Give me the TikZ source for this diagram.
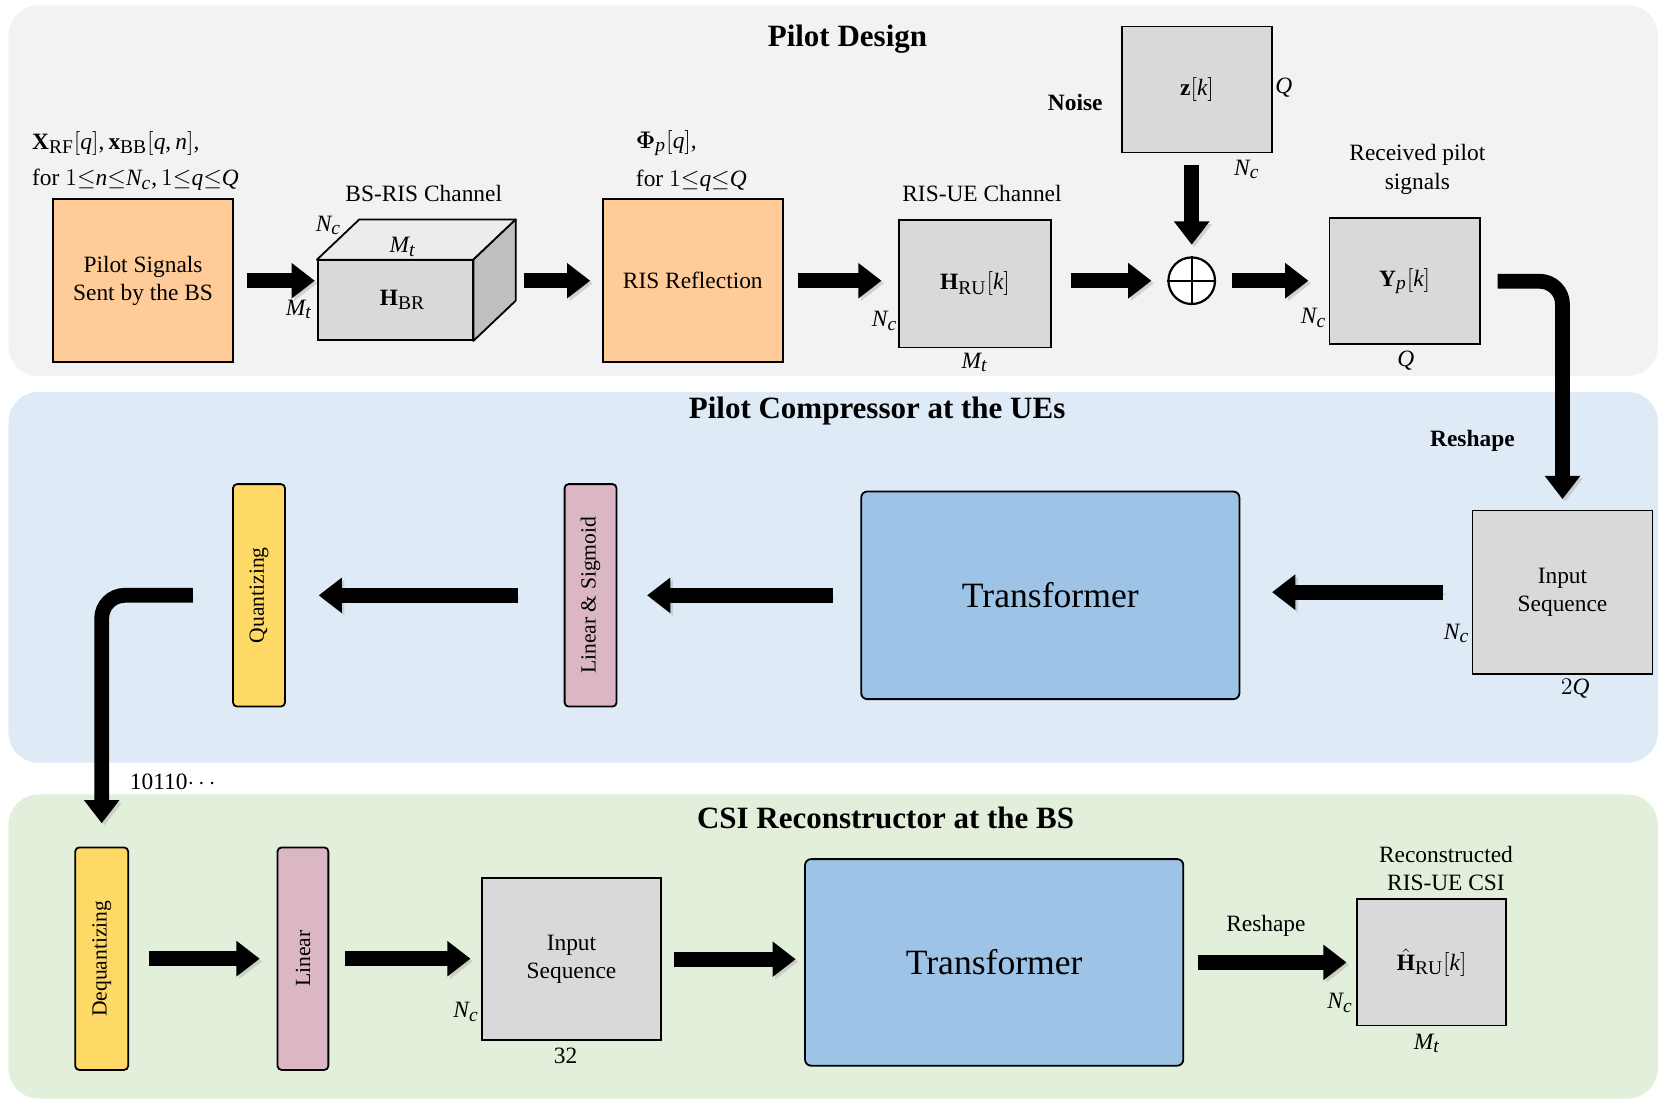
\documentclass[tikz,border=0pt]{standalone}
\usepackage{amsmath}
\usepackage{bm}
\usepackage{fontspec}
\setmainfont{Liberation Serif}
\usepackage[italic]{mathastext}
\usetikzlibrary{arrows.meta}

\newcommand\bodysize{\fontsize{11.7}{14.3}\selectfont}
\newcommand\rotsize{\fontsize{10.8}{13}\selectfont}

\definecolor{panelgray}{HTML}{F2F2F2}
\definecolor{panelblue}{HTML}{DEEAF6}
\definecolor{panelgreen}{HTML}{E2EFDA}
\definecolor{boxgray}{HTML}{D9D9D9}
\definecolor{boxorange}{HTML}{FFCC99}
\definecolor{boxblue}{HTML}{9DC3E6}
\definecolor{boxpink}{HTML}{DBB6C5}
\definecolor{boxyellow}{HTML}{FFD966}

\tikzset{
  panel/.style={rounded corners=15pt},
  title/.style={inner sep=0pt, font=\fontsize{15.5}{18}\selectfont\bfseries},
  txt/.style={inner sep=0pt, align=center},
  boxsize/.style 2 args={minimum width=#1*0.5297pt, minimum height=#2*0.5297pt},
  gap/.style 2 args={shorten <=#1*0.5297pt, shorten >=#2*0.5297pt},
  block/.style={draw, line width=0.9pt, align=center, inner sep=0pt},
  graybox/.style={block, fill=boxgray},
  orangebox/.style={block, fill=boxorange},
  tfbox/.style={block, fill=boxblue, rounded corners=3pt,
    font=\fontsize{17.8}{20}\selectfont},
  barbox/.style={block, rounded corners=2pt, font=\rotsize},
  sumnode/.style={draw, circle, fill=white, line width=1.1pt,
    minimum size=23.3pt, inner sep=0pt},
  bigarrow/.style={line width=7.4pt,
    -{Triangle[length=11.6pt, width=17pt]},
    preaction={draw=black!30, opacity=.5,
      transform canvas={shift={(1.3pt,-1.3pt)}}}},
}

\begin{document}
\begin{tikzpicture}[x=0.5297pt, y=-0.5297pt, font=\bodysize]
  \useasboundingbox (0,0) rectangle (1568,1041);

  % background panels
  \fill[panelgray, panel] (8,5) rectangle (1565,355);
  \fill[panelblue, panel] (8,370) rectangle (1565,720);
  \fill[panelgreen, panel] (8,750) rectangle (1565,1037);
  \node[title] (ttop) at (800,37) {Pilot Design};
  \node[title] (tmid) at (828,388) {Pilot Compressor at the UEs};
  \node[title] (tbot) at (836,772) {CSI Reconstructor at the BS};

  % pilot design
  \node[orangebox, boxsize={170}{154}] (pilot) at (135,265) {Pilot Signals\\Sent by the BS};
  \node[txt, anchor=west] (xrf) at (30,135) {$\mathbf{X}_{\mathrm{RF}}[q], \mathbf{x}_{\mathrm{BB}}[q,n],$};
  \node[txt, anchor=west] (xrange) at (30,170) {for $1{\le}n{\le}N_c,1{\le}q{\le}Q$};

  \node[graybox, boxsize={146}{75}] (br) at (373,283.5) {};
  \filldraw[fill=boxgray!50, line width=0.9pt, line join=round] (br.north west) -- ++(40,-38) -- ([shift={(40,-38)}]br.north east) -- (br.north east) -- cycle;
  \filldraw[fill=black!25, line width=0.9pt, line join=round] (br.north east) -- ++(40,-38) -- ([shift={(40,-38)}]br.south east) -- (br.south east) -- cycle;
  \node[txt] (brname) at (380,283) {$\mathbf{H}_{\mathrm{BR}}$};
  \node[txt] (brlbl) at (400,183) {BS-RIS Channel};
  \node[txt] (brnc) at (310,213) {$N_c$};
  \node[txt] (brmt1) at (380,233) {$M_t$};
  \node[txt] (brmt2) at (282,292) {$M_t$};
  \coordinate (brback) at (486,265);

  \node[orangebox, boxsize={170}{154}] (ris) at (654,265) {RIS Reflection};
  \node[txt, anchor=west] (phi) at (600,135) {$\bm{\Phi}_p[q],$};
  \node[txt, anchor=west] (phirange) at (600,171) {for $1{\le}q{\le}Q$};

  \node[graybox, boxsize={143}{120}] (hru) at (920.5,268) {$\mathbf{H}_{\mathrm{RU}}[k]$};
  \node[txt] (hrulbl) at (927,183) {RIS-UE Channel};
  \node[txt] (hrunc) at (835,303) {$N_c$};
  \node[txt] (hrumt) at (920,342) {$M_t$};

  \node[sumnode] (sum) at (1125,265) {};
  \draw[line width=1.1pt] (sum.north) -- (sum.south) (sum.west) -- (sum.east);

  \node[graybox, boxsize={142}{119}] (zk) at (1130,84.5) {$\mathbf{z}[k]$};
  \node[txt, font=\bodysize\bfseries] (noise) at (1015,97) {Noise};
  \node[txt] (zq) at (1212,83) {$Q$};
  \node[txt] (znc) at (1177,160) {$N_c$};

  \node[graybox, boxsize={142}{119}] (yp) at (1326,265.5) {$\mathbf{Y}_p[k]$};
  \node[txt] (yplbl) at (1338,160) {Received pilot\\signals};
  \node[txt] (ypnc) at (1240,300) {$N_c$};
  \node[txt] (ypq) at (1327,340) {$Q$};
  \node[txt, font=\bodysize\bfseries] (reshape1) at (1390,416) {Reshape};

  \draw[bigarrow, gap={12}{2}] (pilot.east) -- (pilot.east -| br.west);
  \draw[bigarrow, gap={9}{11}] (brback) -- (ris.west);
  \draw[bigarrow, gap={13}{16}] (ris.east) -- (ris.east -| hru.west);
  \draw[bigarrow, gap={18}{15}] (sum.west -| hru.east) -- (sum.west);
  \draw[bigarrow, gap={15}{19}] (sum.east) -- (sum.east -| yp.west);
  \draw[bigarrow, gap={11}{11}] (sum.north |- zk.south) -- (sum.north);

  % compressor at the UEs
  \node[graybox, boxsize={170}{154}] (in1) at (1475,559) {Input\\Sequence};
  \node[txt] (in1nc) at (1375,598) {$N_c$};
  \node[txt] (in1q) at (1487,650) {$2Q$};
  \node[tfbox, boxsize={357}{196}] (tf1) at (991.5,562) {Transformer};
  \node[barbox, boxsize={49}{210}, fill=boxpink] (ls) at (557.5,562) {\rotatebox{90}{Linear \& Sigmoid}};
  \node[barbox, boxsize={49}{210}, fill=boxyellow] (qz) at (244.5,562) {\rotatebox{90}{Quantizing}};
  \node[txt] (bits) at (165,738) {10110$\cdots$};

  \draw[bigarrow, rounded corners=11.5pt, gap={16}{10}] (yp.east) -| (in1.north);
  \draw[bigarrow, gap={27}{30}] (in1.west) -- (in1.west -| tf1.east);
  \draw[bigarrow, gap={26}{28}] (tf1.west) -- (tf1.west -| ls.east);
  \draw[bigarrow, gap={43}{31}] (ls.west) -- (ls.west -| qz.east);

  % reconstructor at the BS
  \node[barbox, boxsize={50}{210}, fill=boxyellow] (dq) at (96,905) {\rotatebox{90}{Dequantizing}};
  \node[barbox, boxsize={48}{210}, fill=boxpink] (ln) at (286,905) {\rotatebox{90}{Linear}};
  \node[graybox, boxsize={169}{153}] (in2) at (539.5,905.5) {Input\\Sequence};
  \node[txt] (in2nc) at (440,955) {$N_c$};
  \node[txt] (in2len) at (534,997) {32};
  \node[tfbox, boxsize={357}{195}] (tf2) at (938.5,908.5) {Transformer};
  \node[txt] (reshape2) at (1195,874) {Reshape};
  \node[graybox, boxsize={141}{119}] (hh) at (1351.5,908.5) {$\hat{\mathbf{H}}_{\mathrm{RU}}[k]$};
  \node[txt] (hhlbl) at (1365,820) {Reconstructed\\RIS-UE CSI};
  \node[txt] (hhnc) at (1265,947) {$N_c$};
  \node[txt] (hhmt) at (1347,985) {$M_t$};

  \draw[bigarrow, rounded corners=11.5pt, gap={37}{22}] (qz.west) -| (dq.north);
  \draw[bigarrow, gap={19}{16}] (dq.east) -- (dq.east -| ln.west);
  \draw[bigarrow, gap={15}{10}] (ln.east) -- (ln.east -| in2.west);
  \draw[bigarrow, gap={11}{8}] (in2.east) -- (in2.east -| tf2.west);
  \draw[bigarrow, gap={13}{9}] (tf2.east) -- (tf2.east -| hh.west);
\end{tikzpicture}
\end{document}
